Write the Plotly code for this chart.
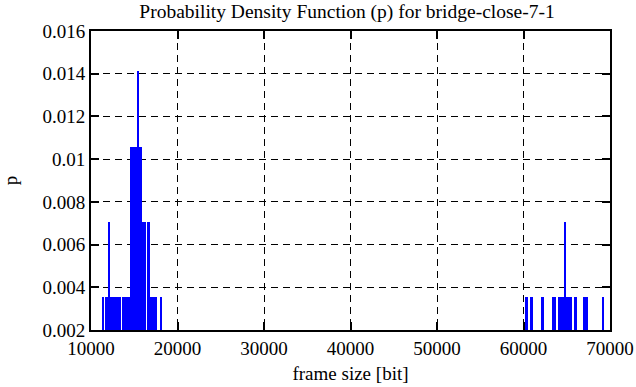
import plotly.graph_objects as go

# Histogram segments: [start, end) in bits and probability p
seg_start = [11272, 11618, 11907, 13584, 16416, 14508, 15352, 15896, 16416, 17976,
             60286, 60864, 62136, 63292, 63985, 64505, 64713, 65869, 66875, 69107]
seg_end   = [11503, 13468, 12196, 16300, 17687, 15896, 15583, 16300, 16763, 18207,
             60483, 61060, 62332, 63719, 64413, 65661, 64852, 66147, 67453, 69304]
seg_p     = [0.00353, 0.00353, 0.00706, 0.00353, 0.00353, 0.01059, 0.01412, 0.00706, 0.00706, 0.00353,
             0.00353, 0.00353, 0.00353, 0.00353, 0.00353, 0.00353, 0.00706, 0.00353, 0.00353, 0.00353]

x_ticks = [10000, 20000, 30000, 40000, 50000, 60000, 70000]
y_ticks = [0.002, 0.004, 0.006, 0.008, 0.01, 0.012, 0.014, 0.016]
y_tick_labels = ["0.002", "0.004", "0.006", "0.008", "0.01", "0.012", "0.014", "0.016"]

centers = [(a + b) / 2 for a, b in zip(seg_start, seg_end)]
widths = [b - a for a, b in zip(seg_start, seg_end)]

FONT = "Liberation Serif"

fig = go.Figure()
fig.add_trace(go.Bar(
    x=centers, y=seg_p, width=widths,
    marker=dict(color="#0000ff", line=dict(width=0)),
    showlegend=False, hoverinfo="skip",
))

axis_common = dict(
    showline=True, linecolor="black", linewidth=2, mirror="ticks",
    ticks="inside", ticklen=8, tickwidth=2, tickcolor="black",
    showgrid=True, gridcolor="black", gridwidth=1, griddash="7px,5px",
    zeroline=False, automargin=False,
    tickfont=dict(family=FONT, size=19, color="black"),
)

fig.update_layout(
    width=636, height=387,
    margin=dict(l=91, r=26, t=31, b=57),
    paper_bgcolor="white", plot_bgcolor="white",
    bargap=0, barmode="overlay",
    title=dict(text="Probability Density Function (p) for bridge-close-7-1",
               x=0.5456, xanchor="center", y=0.988, yanchor="top",
               font=dict(family=FONT, size=19.5, color="black")),
    xaxis=dict(range=[10000, 70000], tickvals=x_ticks,
               ticktext=[str(v) for v in x_ticks],
               title=dict(text="frame size [bit]", standoff=9,
                          font=dict(family=FONT, size=19, color="black")),
               **axis_common),
    yaxis=dict(range=[0.002, 0.016], tickvals=y_ticks, ticktext=y_tick_labels,
               title=dict(text="p", standoff=24,
                          font=dict(family=FONT, size=19, color="black")),
               **axis_common),
)

fig.write_html("out.html",
               config={"displayModeBar": False},
               post_script="document.body.style.margin='0';document.body.style.padding='0';")
